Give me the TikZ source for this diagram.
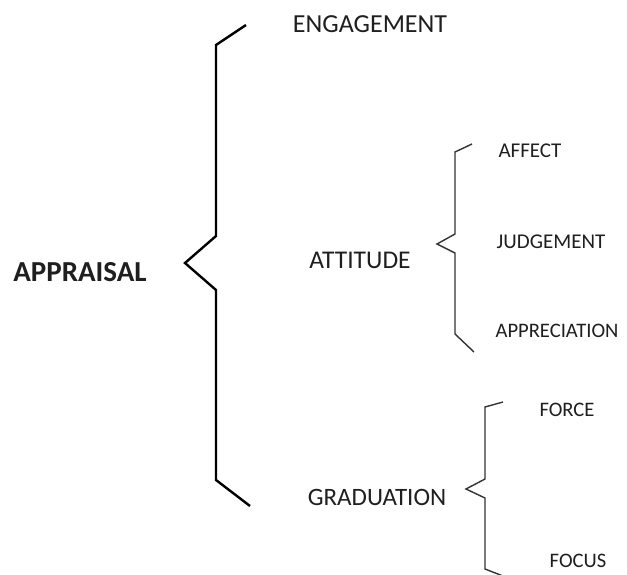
\documentclass[tikz,border=0pt]{standalone}
\usepackage{fontspec}
\setmainfont{Carlito}
\begin{document}
\begin{tikzpicture}[x=1pt,y=-1pt,
  lbl/.style={inner sep=0pt,text=black!88},
  bigbrace/.style={line width=2.4pt,line join=miter,black},
  smallbrace/.style={line width=1.4pt,line join=miter,black!80}]
\useasboundingbox (0,0) rectangle (627,574);
\fill[white] (0,0) rectangle (627,574);

% main brace
\draw[bigbrace] (246,25) -- (216,45) -- (216,236) -- (185,263) -- (216,290) -- (216,480) -- (250,506);
% attitude brace
\draw[smallbrace] (472,144) -- (455,152) -- (455,234) -- (437,244) -- (455,253) -- (455,334) -- (474,352);
% graduation brace
\draw[smallbrace] (503,402) -- (485,407) -- (485,479) -- (466,489) -- (485,498) -- (485,569) -- (503,576);

\node[lbl,font=\bfseries\fontsize{29}{29}\selectfont] (appraisal) at (80,272) {APPRAISAL};
\node[lbl,font=\fontsize{26}{26}\selectfont] (engagement) at (370,24) {ENGAGEMENT};
\node[lbl,font=\fontsize{25.5}{26}\selectfont] (attitude) at (360,260) {ATTITUDE};
\node[lbl,font=\fontsize{25}{26}\selectfont] (graduation) at (377,497) {GRADUATION};
\node[lbl,font=\fontsize{21}{22}\selectfont] (affect) at (530,151) {AFFECT};
\node[lbl,font=\fontsize{21}{22}\selectfont] (judgement) at (551,242) {JUDGEMENT};
\node[lbl,font=\fontsize{20.6}{22}\selectfont] (appreciation) at (557,331) {APPRECIATION};
\node[lbl,font=\fontsize{20.6}{22}\selectfont] (force) at (567,410) {FORCE};
\node[lbl,font=\fontsize{20.6}{22}\selectfont] (focus) at (578,561) {FOCUS};
\end{tikzpicture}
\end{document}
